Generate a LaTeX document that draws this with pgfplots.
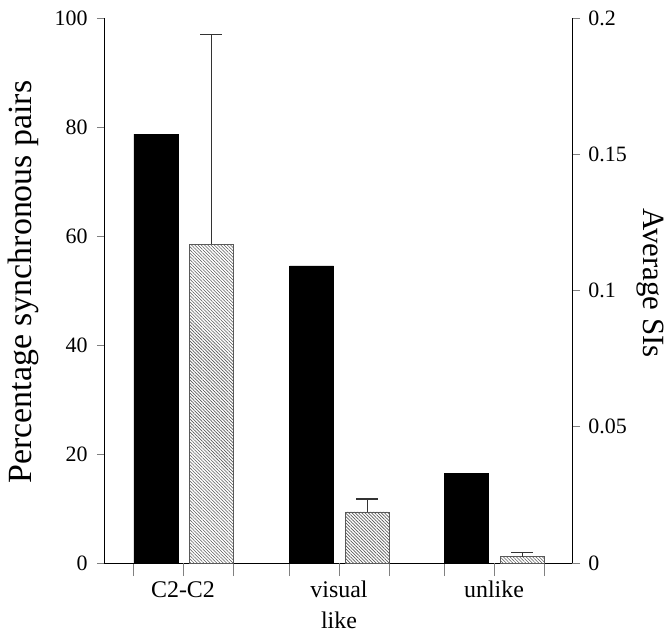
\documentclass[border=0pt]{standalone}
\usepackage{fontspec}
\setmainfont{Liberation Serif}
\usepackage{pgfplots}
\pgfplotsset{compat=1.18}
\usetikzlibrary{patterns.meta}
\begin{document}
\begin{tikzpicture}
\useasboundingbox (-104bp,-76bp) rectangle (567bp,563bp);
% left axis: percentage synchronous pairs
\begin{axis}[
  scale only axis, width=468bp, height=545bp,
  xmin=0, xmax=468, ymin=0, ymax=100,
  axis x line*=bottom, axis y line*=left,
  axis line style={line width=0.8bp},
  ytick={0,20,40,60,80,100},
  yticklabels={0,20,40,60,80,100},
  yticklabel style={font=\fontsize{22}{24}\selectfont, inner sep=2bp, xshift=-10bp},
  ytick style={line width=0.8bp, /pgfplots/major tick length=7bp},
  tick align=outside,
  xtick={29,129,185,285,340,440},
  xticklabels={},
  xtick style={line width=0.8bp, /pgfplots/major tick length=13bp},
  extra x ticks={79,235,390},
  extra x tick labels={C2-C2,visual\\like,unlike},
  extra x tick style={major tick length=0pt,
     xticklabel style={align=center, yshift=-17bp, inner sep=1bp,
       font=\fontsize{24}{31}\selectfont}},
  bar width=44,
  clip=false,
]
\addplot[ybar, fill=black, draw=black] coordinates {(52,78.7) (207.5,54.5) (362.5,16.5)};
\end{axis}
% right axis: average SIs
\begin{axis}[
  scale only axis, width=468bp, height=545bp,
  xmin=0, xmax=468, ymin=0, ymax=0.2,
  axis x line=none, axis y line*=right,
  axis line style={line width=0.8bp},
  ytick={0,0.05,0.1,0.15,0.2},
  yticklabels={0,0.05,0.1,0.15,0.2},
  yticklabel style={font=\fontsize{22}{24}\selectfont, inner sep=2bp, xshift=10bp},
  ytick style={line width=0.8bp, /pgfplots/major tick length=8bp},
  tick align=outside,
  bar width=44,
  clip=false,
]
\addplot[ybar, draw=gray!70!black, line width=0.5bp,
  pattern={Lines[angle=-45, distance=2.3bp, line width=0.6bp]}, pattern color=gray!70!black,
  error bars/.cd, y dir=plus, y explicit,
  error mark=|,
  error bar style={line width=1bp, black!80},
  error mark options={line width=1.2bp, mark size=11bp, black!80}]
  coordinates {
  (107,0.117) +- (0,0.077)
  (263,0.0188) +- (0,0.0047)
  (418,0.0023) +- (0,0.0015)
  };
\end{axis}
\node[rotate=90, font=\fontsize{34}{40}\selectfont] at (-81bp,281bp) {Percentage synchronous pairs};
\node[rotate=-90, font=\fontsize{31}{36}\selectfont] at (546bp,280bp) {Average SIs};
\end{tikzpicture}
\end{document}
